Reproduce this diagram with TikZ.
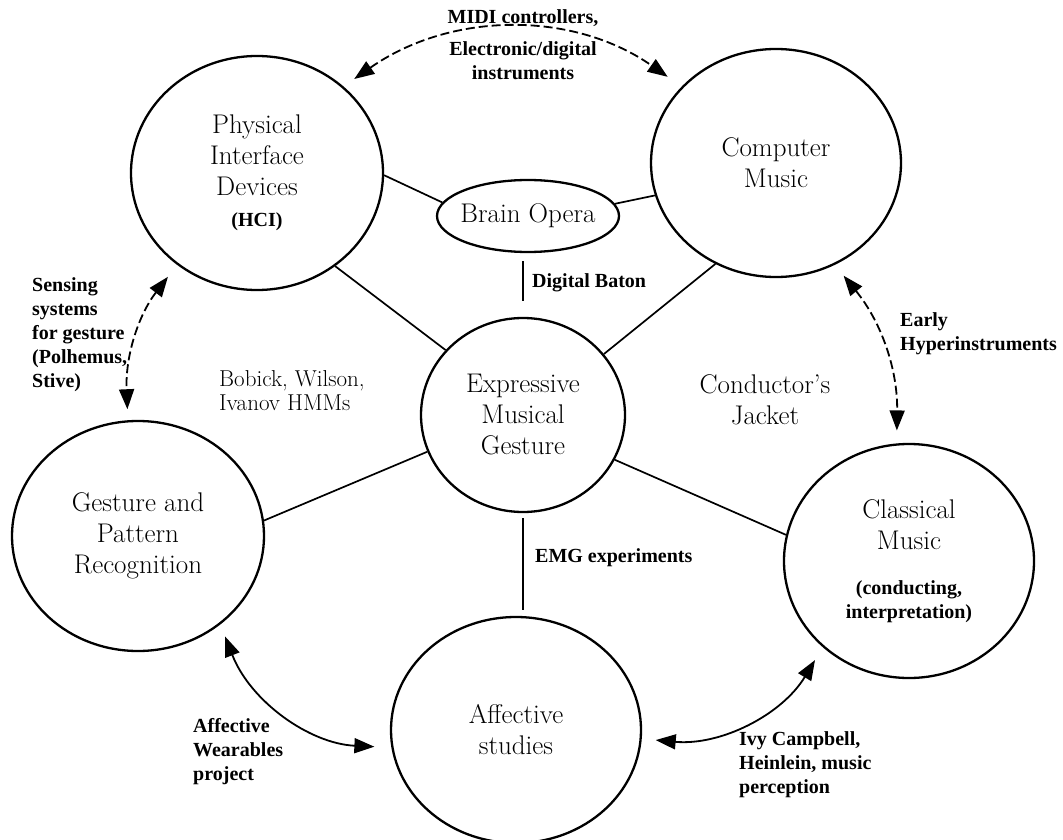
\documentclass[tikz,border=0pt]{standalone}
\usepackage{fontspec}
\newfontfamily\labfont{Liberation Serif}
\usetikzlibrary{shapes.geometric,arrows.meta}
\begin{document}
\begin{tikzpicture}[x=1pt,y=1pt,
  topic/.style={draw,ellipse,line width=2.3pt,inner sep=0pt,align=center,font=\fontsize{27}{31}\selectfont},
  lab/.style={inner sep=0pt,font=\labfont\bfseries\fontsize{20}{24}\selectfont},
  mid/.style={inner sep=0pt,font=\fontsize{27}{31}\selectfont},
  link/.style={line width=1.7pt},
  twoway/.style={line width=1.8pt,<->,>={Triangle[length=20pt,width=15pt]}},
  broken/.style={dash pattern=on 9pt off 4pt}
]
\useasboundingbox (0,0) rectangle (1063,-840);

% topic circles
\node[topic,minimum width=252pt,minimum height=234pt] (phys) at (257,-173)
  {Physical\\Interface\\Devices\\{\labfont\bfseries\fontsize{20}{24}\selectfont (HCI)}};
\node[topic,minimum width=250pt,minimum height=228pt] (comp) at (776,-163) {Computer\\Music};
\node[topic,minimum width=182pt,minimum height=72pt] (brain) at (528,-216) {\makebox[0pt]{Brain Opera}};
\node[topic,minimum width=204pt,minimum height=194pt] (expr) at (523,-415) {Expressive\\Musical\\Gesture};
\node[topic,minimum width=252pt,minimum height=230pt] (gest) at (138,-536) {Gesture and\\Pattern\\Recognition};
\node[topic,minimum width=250pt,minimum height=234pt] (class) at (909,-561)
  {Classical\\Music\\[14pt]{\labfont\bfseries\fontsize{20}{24}\selectfont (conducting,}\\[-7pt]{\labfont\bfseries\fontsize{20}{24}\selectfont interpretation)}};
\node[topic,minimum width=250pt,minimum height=226pt] (aff) at (516,-730) {Affective\\studies};

% free labels
\node[lab,align=center] (midi) at (523,-45) {MIDI controllers,\\[8pt]Electronic/digital\\instruments};
\node[lab,align=left,anchor=west] (sens) at (32,-335) {Sensing\\systems\\for gesture\\(Polhemus,\\Stive)};
\node[lab,align=left,anchor=west] (early) at (900,-334) {Early\\Hyperinstruments};
\node[lab,align=left,anchor=west] (wear) at (193,-752) {Affective\\Wearables\\project};
\node[lab,align=left,anchor=west] (ivy) at (739,-765) {Ivy Campbell,\\Heinlein, music\\perception};
\node[lab,anchor=west] (baton) at (532,-283) {Digital Baton};
\node[lab,anchor=west] (emg) at (535,-558) {EMG experiments};
\node[mid,align=left,anchor=west,font=\fontsize{23}{24}\selectfont] (hmm) at (219,-391) {Bobick, Wilson,\\Ivanov HMMs};
\node[mid,align=center] (cond) at (765,-400) {Conductor's\\Jacket};

% plain links
\draw[link] (phys.-1) -- (brain.171);
\draw[link] (brain.8) -- (comp.-165);
\draw[link] (phys.-50) -- (expr.140);
\draw[link] (comp.-121) -- (expr.37);
\draw[link] (expr.201) -- (gest.7);
\draw[link] (expr.-26) -- (class.168);
\draw[link,shorten <=8pt,shorten >=16pt] (expr.north |- brain.south) -- (expr.north);
\draw[link,shorten <=5pt,shorten >=6pt] (expr.south) -- (expr.south |- aff.north);

% two-way arrows
\draw[twoway,broken,shorten <=13pt,shorten >=17pt] (phys.45) to[bend left=35] (comp.141);
\draw[twoway,broken,shorten <=15pt,shorten >=11pt] (phys.229) to[bend right=20] (gest.95);
\draw[twoway,broken,shorten <=14pt,shorten >=13pt] (comp.-60) to[bend left=20] (class.96);
\draw[twoway,shorten <=13pt,shorten >=17pt] (gest.-47) to[bend right=33] (aff.188);
\draw[twoway,shorten <=15pt,shorten >=14pt] (class.225) to[bend left=32] (aff.-4);
\end{tikzpicture}
\end{document}
